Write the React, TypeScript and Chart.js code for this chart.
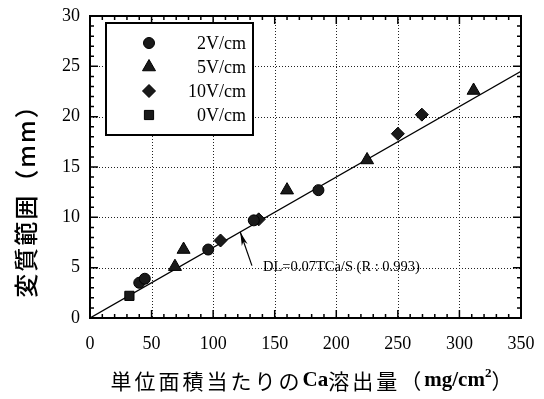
import { useEffect, useRef } from "react";
import { Chart, registerables } from "chart.js";

Chart.register(...registerables);

// Field strengths and measured values (Ca dissolved per unit area vs. altered depth)
const seriesLabels = ["2V/cm", "5V/cm", "10V/cm", "0V/cm"];
const seriesStyles = ["circle", "triangle", "rectRot", "rect"];

const x2V = [40, 44.5, 96, 133, 185.5];
const y2V = [3.5, 3.9, 6.8, 9.7, 12.7];

const x5V = [69, 76, 160, 225, 311.5];
const y5V = [5.1, 6.8, 12.7, 15.7, 22.6];

const x10V = [106, 137, 250, 269.5];
const y10V = [7.7, 9.8, 18.3, 20.2];

const x0V = [32];
const y0V = [2.2];

// Regression line DL = 0.07 TCa/S
const slope = 0.07;
const fitX = [0, 350];

const xTickValues = [0, 50, 100, 150, 200, 250, 300, 350];
const yTickValues = [0, 5, 10, 15, 20, 25, 30];

const yTitle = "変質範囲（mm）";
const xTitleParts = ["単位面積当たりの", "Ca", "溶出量", "（", "mg/cm", "2", "）"];
const annotationText = "DL=0.07TCa/S (R : 0.993)";
// annotation anchor points in data units
const arrowTip = [122, 0.07 * 122];
const arrowTail = [131.5, 5.2];
const annotationAt = [140.5, 5.0];

const SERIF = '"Liberation Serif", "Times New Roman", serif';
const CJK = '"Noto Sans CJK JP", sans-serif';

const toPoints = (xs: number[], ys: number[]) => xs.map((x, i) => ({ x, y: ys[i] }));

// small marker painter for the legend, same shapes Chart.js uses
function drawMarker(ctx: CanvasRenderingContext2D, style: string, r: number, x: number, y: number) {
  ctx.beginPath();
  if (style === "circle") {
    ctx.arc(x, y, r, 0, Math.PI * 2);
  } else if (style === "triangle") {
    ctx.moveTo(x, y - r);
    ctx.lineTo(x + r * Math.sin(Math.PI / 3), y + r * 0.5);
    ctx.lineTo(x - r * Math.sin(Math.PI / 3), y + r * 0.5);
  } else if (style === "rectRot") {
    ctx.moveTo(x, y - r);
    ctx.lineTo(x + r, y);
    ctx.lineTo(x, y + r);
    ctx.lineTo(x - r, y);
  } else {
    const s = r * Math.SQRT1_2;
    ctx.rect(x - s, y - s, 2 * s, 2 * s);
  }
  ctx.closePath();
  ctx.fill();
  ctx.stroke();
}

const decorations = {
  id: "decorations",
  beforeDatasetsDraw(chart: any) {
    const { ctx, chartArea: a, scales } = chart;
    const xs = scales.x;
    const ys = scales.y;
    ctx.save();
    ctx.strokeStyle = "#222";
    ctx.lineWidth = 1;
    ctx.setLineDash([1, 2]);
    xTickValues.forEach((v) => {
      if (v <= 0 || v >= 350) return;
      const px = Math.round(xs.getPixelForValue(v)) + 0.5;
      ctx.beginPath();
      ctx.moveTo(px, a.top);
      ctx.lineTo(px, a.bottom);
      ctx.stroke();
    });
    yTickValues.forEach((v) => {
      if (v <= 0 || v >= 30) return;
      const py = Math.round(ys.getPixelForValue(v)) + 0.5;
      ctx.beginPath();
      ctx.moveTo(a.left, py);
      ctx.lineTo(a.right, py);
      ctx.stroke();
    });
    ctx.restore();
  },
  afterDatasetsDraw(chart: any) {
    const { ctx, chartArea: a, scales } = chart;
    const xs = scales.x;
    const ys = scales.y;
    ctx.save();
    // frame
    ctx.strokeStyle = "#000";
    ctx.lineWidth = 2;
    ctx.strokeRect(a.left, a.top, a.right - a.left, a.bottom - a.top);
    // inward ticks
    ctx.lineWidth = 1.5;
    for (let v = 0; v <= 350; v += 10) {
      const px = xs.getPixelForValue(v);
      const len = v % 50 === 0 ? 8 : 4;
      ctx.beginPath();
      ctx.moveTo(px, a.bottom);
      ctx.lineTo(px, a.bottom - len);
      ctx.moveTo(px, a.top);
      ctx.lineTo(px, a.top + len);
      ctx.stroke();
    }
    for (let v = 0; v <= 30; v += 1) {
      const py = ys.getPixelForValue(v);
      const len = v % 5 === 0 ? 8 : 4;
      ctx.beginPath();
      ctx.moveTo(a.left, py);
      ctx.lineTo(a.left + len, py);
      ctx.moveTo(a.right, py);
      ctx.lineTo(a.right - len, py);
      ctx.stroke();
    }

    // arrow annotation
    const tx = xs.getPixelForValue(arrowTip[0]);
    const ty = ys.getPixelForValue(arrowTip[1]);
    const sx = xs.getPixelForValue(arrowTail[0]);
    const sy = ys.getPixelForValue(arrowTail[1]);
    ctx.lineWidth = 1.2;
    ctx.beginPath();
    ctx.moveTo(sx, sy);
    ctx.lineTo(tx, ty);
    ctx.stroke();
    const ang = Math.atan2(ty - sy, tx - sx);
    const hl = 14;
    const hw = 0.22;
    ctx.fillStyle = "#000";
    ctx.beginPath();
    ctx.moveTo(tx, ty);
    ctx.lineTo(tx - hl * Math.cos(ang - hw), ty - hl * Math.sin(ang - hw));
    ctx.lineTo(tx - hl * 0.7 * Math.cos(ang), ty - hl * 0.7 * Math.sin(ang));
    ctx.lineTo(tx - hl * Math.cos(ang + hw), ty - hl * Math.sin(ang + hw));
    ctx.closePath();
    ctx.fill();
    ctx.font = `14.5px ${SERIF}`;
    ctx.textBaseline = "middle";
    ctx.textAlign = "left";
    ctx.fillText(annotationText, xs.getPixelForValue(annotationAt[0]), ys.getPixelForValue(annotationAt[1]));

    // legend box
    const lx = 106, ly = 23, lw = 147, lh = 112;
    ctx.fillStyle = "#fff";
    ctx.fillRect(lx, ly, lw, lh);
    ctx.lineWidth = 2;
    ctx.strokeStyle = "#000";
    ctx.strokeRect(lx, ly, lw, lh);
    const rows = [43, 67, 91, 115];
    chart.data.datasets.forEach((ds: any, i: number) => {
      if (i >= seriesLabels.length) return;
      const cy = rows[i];
      ctx.fillStyle = "#1a1a1a";
      ctx.strokeStyle = "#000";
      ctx.lineWidth = 1;
      drawMarker(ctx, ds.pointStyle, ds.pointRadius, 149, cy);
      ctx.fillStyle = "#000";
      ctx.font = `18px ${SERIF}`;
      ctx.textAlign = "right";
      ctx.textBaseline = "middle";
      ctx.fillText(ds.label, 246, cy + 1);
    });
    ctx.restore();
  },
  afterDraw(chart: any) {
    const { ctx } = chart;
    ctx.save();
    ctx.fillStyle = "#000";
    ctx.textBaseline = "middle";
    // y title
    ctx.translate(26, 195);
    ctx.rotate(-Math.PI / 2);
    ctx.font = `500 24px ${CJK}`;
    (ctx as any).letterSpacing = "2px";
    ctx.textAlign = "center";
    ctx.fillText(yTitle, 0, 0);
    ctx.setTransform(1, 0, 0, 1, 0, 0);
    // x title, mixed scripts with a superscript; CJK runs are tracked a little wider
    const fonts = [
      `21px ${CJK}`,
      `bold 21px ${SERIF}`,
      `21px ${CJK}`,
      `21px ${CJK}`,
      `bold 21px ${SERIF}`,
      `bold 13px ${SERIF}`,
      `21px ${CJK}`,
    ];
    const spacing = ["3px", "0px", "3px", "3px", "0px", "0px", "3px"];
    const widths = xTitleParts.map((t, i) => {
      ctx.font = fonts[i];
      (ctx as any).letterSpacing = spacing[i];
      return ctx.measureText(t).width;
    });
    const total = widths.reduce((s, w) => s + w, 0);
    let x = 313 - total / 2;
    ctx.textAlign = "left";
    xTitleParts.forEach((t, i) => {
      ctx.font = fonts[i];
      (ctx as any).letterSpacing = spacing[i];
      ctx.fillText(t, x, i === 5 ? 374 : 381);
      x += widths[i];
    });
    ctx.restore();
  },
};

export default function App() {
  const ref = useRef<HTMLCanvasElement | null>(null);

  useEffect(() => {
    if (!ref.current) return;
    const marker = { backgroundColor: "#1a1a1a", borderColor: "#000", borderWidth: 1, showLine: false };
    const chart = new Chart(ref.current, {
      type: "scatter",
      data: {
        datasets: [
          { label: seriesLabels[0], data: toPoints(x2V, y2V), pointStyle: seriesStyles[0], pointRadius: 5.5, ...marker },
          { label: seriesLabels[1], data: toPoints(x5V, y5V), pointStyle: seriesStyles[1], pointRadius: 7.5, ...marker },
          { label: seriesLabels[2], data: toPoints(x10V, y10V), pointStyle: seriesStyles[2], pointRadius: 6.5, ...marker },
          { label: seriesLabels[3], data: toPoints(x0V, y0V), pointStyle: seriesStyles[3], pointRadius: 6.5, ...marker },
          {
            type: "line",
            label: "fit",
            data: toPoints(fitX, fitX.map((v) => slope * v)),
            borderColor: "#000",
            borderWidth: 1.3,
            pointRadius: 0,
            showLine: true,
            order: 10,
          } as any,
        ],
      },
      options: {
        animation: false,
        responsive: false,
        layout: { padding: { top: 16, right: 23, left: 0, bottom: 0 } },
        plugins: { legend: { display: false }, tooltip: { enabled: false } },
        scales: {
          x: {
            type: "linear",
            min: 0,
            max: 350,
            afterBuildTicks: (s: any) => {
              s.ticks = xTickValues.map((v) => ({ value: v }));
            },
            ticks: { color: "#000", font: { family: SERIF, size: 18 }, padding: 0, maxRotation: 0 },
            grid: { display: false, drawTicks: true, tickLength: 15 },
            border: { display: false },
            afterFit: (s: any) => {
              s.height = 81;
            },
          },
          y: {
            type: "linear",
            min: 0,
            max: 30,
            afterBuildTicks: (s: any) => {
              s.ticks = yTickValues.map((v) => ({ value: v }));
            },
            ticks: { color: "#000", font: { family: SERIF, size: 18 }, padding: 0 },
            grid: { display: false, drawTicks: true, tickLength: 10 },
            border: { display: false },
            afterFit: (s: any) => {
              s.width = 90;
            },
          },
        },
      },
      plugins: [decorations],
    });
    return () => chart.destroy();
  }, []);

  return (
    <div style={{ position: "fixed", left: 0, top: 0, width: 544, height: 399, background: "#fff" }}>
      <canvas ref={ref} width={544} height={399} />
    </div>
  );
}
